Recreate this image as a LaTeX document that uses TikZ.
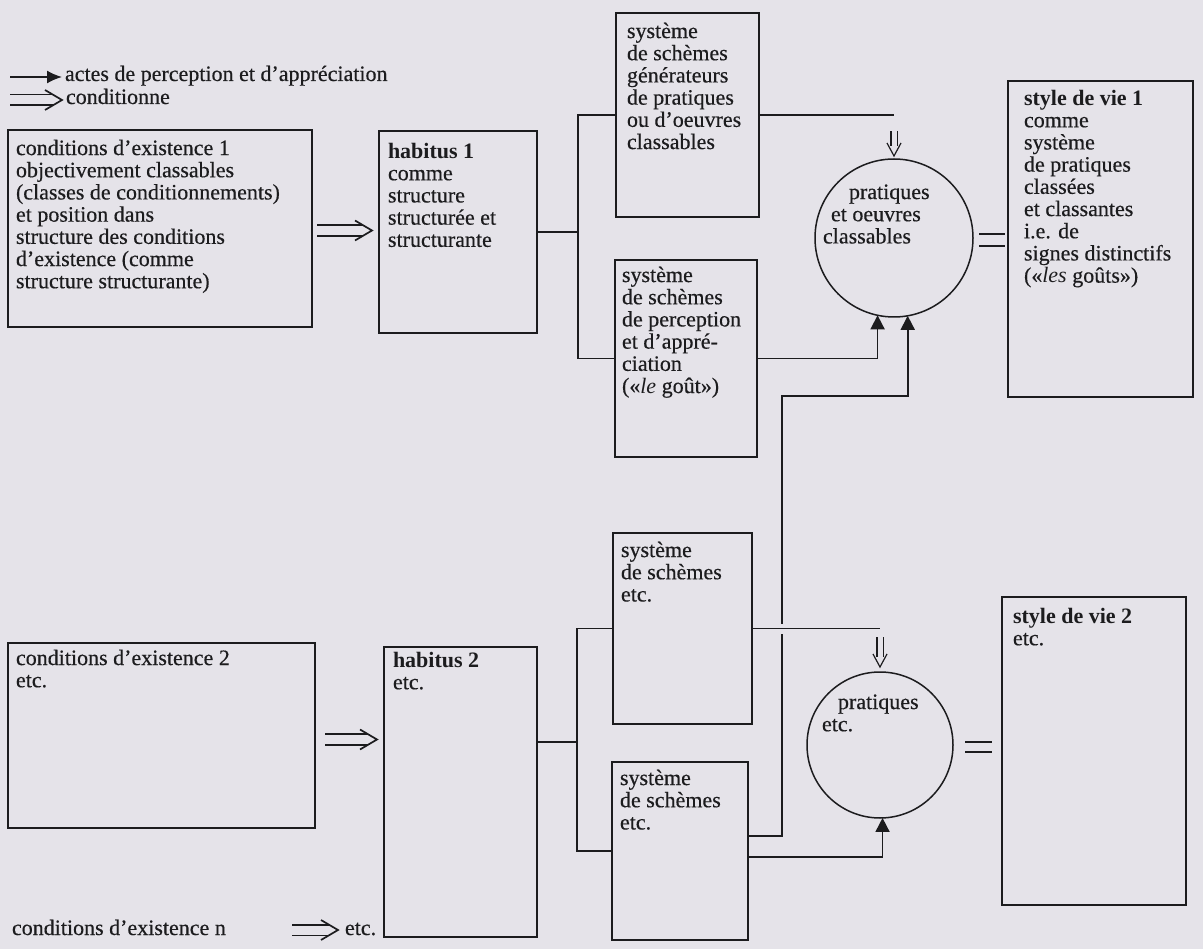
\documentclass[tikz,border=0pt]{standalone}
\usepackage{fontspec}
\setmainfont{Liberation Serif}[UprightFeatures={FakeBold=0.4}]
\usetikzlibrary{arrows.meta,calc}
\definecolor{bgc}{RGB}{229,227,233}
\definecolor{ink}{RGB}{28,28,30}
% horizontal "implies" double arrow: start, tip
\newcommand{\dblH}[2]{%
  \draw[conn, double=bgc, double distance=9pt] (#1) -- ($(#2)+(-9,0)$);
  \draw[conn, line join=miter] ($(#2)+(-17,-10)$) -- (#2) -- ($(#2)+(-17,10)$);
}
% vertical (downward) hollow double arrow: start, tip
\newcommand{\dblV}[2]{%
  \draw[thinconn, double=bgc, double distance=5pt] (#1) -- ($(#2)+(0,-10)$);
  \draw[thinconn, line join=miter] ($(#2)+(-7,-13)$) -- (#2) -- ($(#2)+(7,-13)$);
}
\begin{document}
\begin{tikzpicture}[x=1pt,y=-1pt,
  box/.style={draw=ink, line width=1.8pt, rectangle, inner sep=0pt, outer sep=0pt, anchor=north west},
  circ/.style={draw=ink, line width=1.5pt, circle, inner sep=0pt, outer sep=0pt},
  txt/.style={text=ink, inner sep=0pt, outer sep=0pt, align=left, anchor=north west, font=\fontsize{22}{22.2}\selectfont},
  lbl/.style={text=ink, inner sep=0pt, outer sep=0pt, anchor=base west, font=\fontsize{22}{22.2}\selectfont},
  conn/.style={draw=ink, line width=1.7pt},
  thinconn/.style={draw=ink, line width=1.2pt},
  tri/.style={-{Triangle[length=14pt,width=14pt]}}
]
\fill[bgc] (0,0) rectangle (1203,949);
\useasboundingbox (0,0) rectangle (1203,949);

% ---------- legend ----------
\coordinate (l1s) at (10,77);
\coordinate (l1e) at (62,77);
\draw[conn, -{Latex[length=15pt,width=13pt]}] (l1s) -- (l1e);
\node[lbl] (leg1) at (65,81) {actes de perception et d’appréciation};
\coordinate (l2s) at (10,100);
\coordinate (l2e) at (62,100);
\dblH{l2s}{l2e}
\node[lbl] (leg2) at (66,104) {conditionne};

% ---------- boxes ----------
\node[box, minimum width=304pt, minimum height=197pt] (c1) at (8,130) {};
\node[box, minimum width=158pt, minimum height=202pt] (h1) at (379,131) {};
\node[box, minimum width=143pt, minimum height=204pt] (s1) at (616,13) {};
\node[box, minimum width=142pt, minimum height=197pt] (s2) at (615,260) {};
\node[box, minimum width=185pt, minimum height=316pt] (sv1) at (1008,81) {};
\node[box, minimum width=307pt, minimum height=185pt] (c2) at (8,643) {};
\node[box, minimum width=153pt, minimum height=290pt] (h2) at (384,647) {};
\node[box, minimum width=139pt, minimum height=191pt] (s3) at (613,533) {};
\node[box, minimum width=136pt, minimum height=178pt] (s4) at (612,762) {};
\node[box, minimum width=184pt, minimum height=308pt] (sv2) at (1002,597) {};
\node[circ, minimum size=158pt] (pc1) at (894,238) {};
\node[circ, minimum size=146pt] (pc2) at (880,745) {};

% ---------- texts ----------
\node[txt] (c1t) at (16,139.5) {\strut conditions d’existence 1\\objectivement classables\\(classes de conditionnements)\\et position dans\\structure des conditions\\d’existence (comme\\structure structurante)};
\node[txt] (h1t) at (388,142.5) {\strut\textbf{habitus 1}\\comme\\structure\\structurée et\\structurante};
\node[txt] (s1t) at (627,22.5) {\strut système\\de schèmes\\générateurs\\de pratiques\\ou d’oeuvres\\classables};
\node[txt] (s2t) at (622,266.5) {\strut système\\de schèmes\\de perception\\et d’appré-\\ciation\\(«\textit{le} goût»)};
\node[txt] (pc1t) at (823,183.5) {\strut\hspace*{26pt}pratiques\\\hspace*{8pt}et oeuvres\\classables};
\node[txt] (sv1t) at (1024,89.5) {\strut\textbf{style de vie 1}\\comme\\système\\de pratiques\\classées\\et classantes\\i.e. de\\signes distinctifs\\(«\textit{les} goûts»)};
\node[txt] (c2t) at (16,649.5) {\strut conditions d’existence 2\\etc.};
\node[txt] (h2t) at (393,651.5) {\strut\textbf{habitus 2}\\etc.};
\node[txt] (s3t) at (621,541.5) {\strut système\\de schèmes\\etc.};
\node[txt] (s4t) at (620,769.5) {\strut système\\de schèmes\\etc.};
\node[txt] (pc2t) at (822,693.5) {\strut\hspace*{16pt}pratiques\\etc.};
\node[txt] (sv2t) at (1013,607.5) {\strut\textbf{style de vie 2}\\etc.};

% ---------- connectors, top ----------
\coordinate (a1s) at ($(c1.east)+(5,2)$);
\coordinate (a1t) at ($(h1.west |- a1s)+(-7,0)$);
\dblH{a1s}{a1t}

\coordinate (j1) at (578,0);
\draw[conn] (h1.east) -- (h1.east -| j1);
\draw[conn] (s1.west) -| (j1 |- s2.west) -- (s2.west);

\draw[conn] (s1.east) -- (s1.east -| pc1.north);
\coordinate (d1s) at ($(pc1.north)+(0,-28)$);
\coordinate (d1t) at ($(pc1.north)+(0,-3)$);
\dblV{d1s}{d1t}

\draw[conn,tri] (s2.east) -| (pc1.258);

% equals
\draw[conn] ($(pc1.east)+(6,-4)$) -- ($(sv1.west |- pc1.east)+(-3,-4)$);
\draw[conn] ($(pc1.east)+(6,8)$) -- ($(sv1.west |- pc1.east)+(-3,8)$);

% ---------- connectors, bottom ----------
\coordinate (a2s) at ($(c2.east)+(10,4)$);
\coordinate (a2t) at ($(h2.west |- a2s)+(-7,0)$);
\dblH{a2s}{a2t}

\coordinate (h2r) at ($(h2.north east)+(0,95)$);
\coordinate (j2) at (577,0);
\draw[conn] (h2r) -- (h2r -| j2);
\draw[conn] (s3.west) -| (j2 |- s4.west) -- (s4.west);

\draw[conn] (s3.east) -- (s3.east -| pc2.north);
\coordinate (d2s) at ($(pc2.north)+(0,-35)$);
\coordinate (d2t) at ($(pc2.north)+(0,-5)$);
\dblV{d2s}{d2t}

\coordinate (s4a) at ($(s4.east)+(0,-15)$);
\coordinate (j3) at (782,0);
\coordinate (j4) at (0,396);
\draw[conn] (s4a) -| ($(j3 |- s3.east)+(0,5)$);
\draw[conn,tri] ($(j3 |- s3.east)+(0,-5)$) -- (j3 |- j4) -| (pc1.280);

\coordinate (s4b) at ($(s4.east)+(0,6)$);
\draw[conn,tri] (s4b) -| (pc2.272);

\draw[conn] ($(pc2.east)+(12,-3)$) -- ($(sv2.west |- pc2.east)+(-10,-3)$);
\draw[conn] ($(pc2.east)+(12,7)$) -- ($(sv2.west |- pc2.east)+(-10,7)$);

% ---------- last line ----------
\node[lbl] (cn) at (12,935) {conditions d’existence n};
\coordinate (a3s) at (292,930);
\coordinate (a3t) at (338,930);
\dblH{a3s}{a3t}
\node[lbl] (etcn) at (345,935) {etc.};
\end{tikzpicture}
\end{document}
